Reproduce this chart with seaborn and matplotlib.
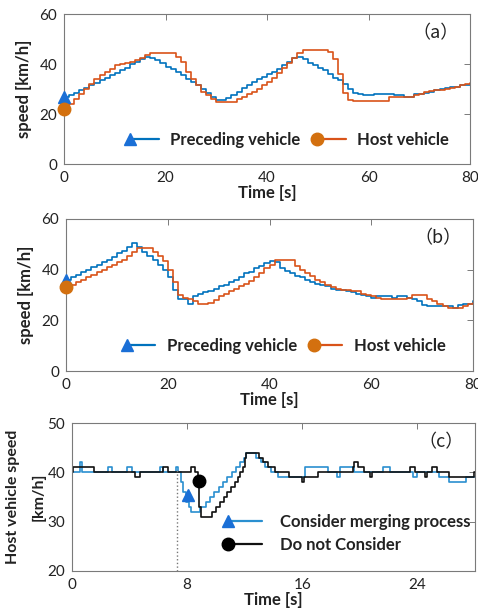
import numpy as np
import pandas as pd
import matplotlib
matplotlib.use("Agg")
import matplotlib.pyplot as plt
from matplotlib.lines import Line2D
from matplotlib.legend_handler import HandlerLine2D
import seaborn as sns

# ---------------- data ----------------
# (a) speed profiles sampled every second, 0..80 s
time_ab = list(range(0, 81))
a_preceding = [27, 27.5, 28.5, 29.5, 30.5, 31.5, 32.5, 33.5, 34.5, 35.5,
               36.5, 37.5, 38.5, 40, 41, 42, 43, 42.5, 41.5, 40.5,
               39, 38, 37, 35.5, 34, 33, 31.5, 30, 28.5, 27,
               25.5, 25.5, 26.5, 27.5, 29, 30.5, 31.5, 33, 34, 35,
               36, 37, 38, 39.5, 41, 42.5, 43, 42, 40.5, 39.5,
               38.5, 37.5, 36, 34.5, 33.5, 32, 30, 28.5, 28, 27.5,
               27.5, 28, 28, 28, 28, 27.5, 27.5, 27, 27, 28,
               28, 28.5, 29, 29.5, 30, 30.5, 31, 31, 31.5, 31.5, 31.5]
a_host = [22, 24, 26, 28, 30, 32, 34, 35.5, 37, 38,
          39.5, 40, 40.5, 41, 41.5, 42.5, 43.5, 44.3, 44.3, 44.3,
          44.3, 44.3, 43, 41, 37, 34, 31.5, 29, 27.5, 26,
          25, 25, 25, 25, 26, 27, 28, 29, 30, 31.5,
          33, 34.5, 36.5, 38.5, 40.5, 42.5, 44.5, 45.6, 45.6, 45.6,
          45.6, 45.6, 45, 42, 36, 28.5, 25.5, 25.3, 25.3, 25.3,
          25.3, 25.3, 25.3, 25.3, 26.7, 26.7, 26.7, 26.7, 27, 27.5,
          28, 29, 29.2, 29.5, 29.5, 30, 30.5, 31, 31.5, 32, 32.5]

# (b) speed profiles sampled every second, 0..80 s
b_preceding = [36, 37, 38, 39, 40, 41, 42, 43, 44, 45,
               46.5, 47.5, 49, 50.5, 49, 47, 45.5, 44, 42, 40,
               37, 32, 28.5, 28.5, 26.5, 29.5, 30.5, 31, 31.5, 32.5,
               33.5, 34, 35, 36, 37, 38.5, 39, 40.5, 41.5, 42.5,
               43.5, 43, 40.5, 39.5, 38.5, 37.5, 37, 36, 35, 34.5,
               34, 33.5, 32.5, 32, 32, 31.5, 31, 30.5, 30, 29.5,
               29, 29.5, 29.5, 29.5, 29, 29.5, 29.5, 29, 28.5, 27.5,
               26, 25.5, 25.5, 25.5, 25.5, 25.5, 25, 26, 26.5, 26.5, 27.5]
b_host = [33, 34, 35, 36, 37, 38, 39, 40, 41, 42,
          43, 44, 45.5, 47, 48.5, 48.5, 48.5, 47, 45.5, 43.5,
          40, 35, 30, 29, 28.5, 27.5, 26.5, 26.5, 27, 28,
          29.5, 30.5, 31.5, 32.5, 33.5, 34.5, 35.5, 37, 38.5, 40.5,
          42, 43.8, 43.8, 43.8, 43.8, 41.5, 40, 38.5, 37.5, 36,
          35, 34, 33, 32.5, 32, 32, 31.5, 31.5, 30.5, 30,
          29.5, 29, 28.5, 28.5, 28.5, 28.5, 28.5, 29, 30, 30,
          30, 28.5, 27.5, 26.5, 25.5, 24.8, 24.8, 24.8, 25.5, 26.5, 27]

# (c) host vehicle speed, change points (time [s], speed [km/h])
c_merge_t = [0, 0.55, 0.7, 2.5, 2.8, 3.8, 4.2, 6.1, 6.35, 7.2, 7.4, 7.55,
             7.7, 7.9, 8.1, 8.25, 8.9, 9.3, 9.6, 9.9, 10.2, 10.5, 10.8, 11.1,
             11.4, 11.7, 11.95, 12.1, 12.8, 13.1, 13.4, 13.8, 14.3, 16.2, 17.8,
             18.4, 18.6, 19.6, 21.6, 22.1, 23.7, 24.0, 25.5, 26.2, 27.4, 28]
c_merge_v = [40, 42, 40, 41, 40, 41, 40, 41, 40, 41, 40, 38,
             36, 34, 33, 32, 33, 34, 35, 36, 37, 38, 39, 40,
             41, 42, 43, 44, 43, 42, 41, 40, 39, 41, 40,
             39, 41, 40, 41, 40, 39, 40, 39, 38, 39, 39]
c_plain_t = [0, 0.1, 1.5, 4.4, 4.7, 6.3, 6.65, 8.3, 8.55, 8.75, 8.85, 8.95,
             9.7, 10.0, 10.3, 10.55, 10.8, 11.05, 11.3, 11.5, 11.7, 11.85, 12.0,
             12.1, 13.0, 13.3, 13.6, 14.1, 15.1, 16.0, 16.1, 17.1, 19.5, 19.6,
             19.85, 20.3, 20.7, 20.85, 23.5, 23.85, 24.55, 24.65, 25.0, 25.35,
             26.2, 27.9, 28]
c_plain_v = [40, 41, 40, 39, 40, 41, 40, 41, 40, 37, 33, 31,
             32, 33, 34, 35, 36, 37, 38, 39, 40, 41, 43,
             44, 43, 42, 41, 40, 39, 38, 39, 40, 41, 42,
             41, 40, 39, 40, 41, 40, 39, 40, 41, 40,
             39, 40, 40]
c_merge_marker = (8.05, 35.5)
c_plain_marker = (8.8, 38.2)
c_merge_start = 7.3

# ---------------- style ----------------
sns.set_theme(style="white")
plt.rcParams["font.family"] = ["Lato", "DejaVu Sans"]

BLUE = "#0072BD"
BLUE_MK = "#1A6FD6"
ORANGE = "#D95319"
ORANGE_MK = "#D3700F"
LIGHT_BLUE = "#2A8FD0"
BLACK = "#111111"
SPINE = "#7a7a7a"
TXT = "#222222"
TICK_FS = 11
LAB_FS = 12


class LeftMarkerHandler(HandlerLine2D):
    """Legend entry with the marker at the left end of the line."""

    def create_artists(self, legend, orig_handle, xdescent, ydescent,
                       width, height, fontsize, trans):
        arts = super().create_artists(legend, orig_handle, xdescent, ydescent,
                                      width, height, fontsize, trans)
        for a in arts:
            a.set_markevery([0])
        return arts


fig = plt.figure(figsize=(4.78, 6.09), dpi=100)
ax_a = fig.add_axes([0.1339, 0.7307, 0.8494, 0.2463])
ax_b = fig.add_axes([0.1381, 0.3908, 0.8515, 0.2496])
ax_c = fig.add_axes([0.1506, 0.0624, 0.8431, 0.2430])


def style_axes(ax):
    for s in ax.spines.values():
        s.set_visible(True)
        s.set_color(SPINE)
        s.set_linewidth(0.8)
    ax.tick_params(direction="in", length=4, width=0.7, color=SPINE,
                   top=True, right=True, labelsize=TICK_FS, labelcolor=TXT,
                   pad=5)
    ax.grid(False)


def panel_tag(ax, s):
    ax.text(0.915, 0.87, s, transform=ax.transAxes, ha="center", va="center",
            fontsize=13, color=TXT,
            family=["Noto Sans CJK SC", "DejaVu Sans"])


def add_legend(ax, handles, labels, xy, **kw):
    leg = ax.legend(handles, labels, loc="center", bbox_to_anchor=xy,
                    frameon=False, numpoints=2, borderpad=0,
                    handler_map={Line2D: LeftMarkerHandler(numpoints=2)},
                    prop={"size": LAB_FS, "weight": "bold"}, **kw)
    for txt in leg.get_texts():
        txt.set_color(TXT)
    return leg


def speed_panel(ax, t, prec, host, tag, leg_xy):
    df = pd.DataFrame({"t": t, "prec": prec, "host": host})
    sns.lineplot(data=df, x="t", y="prec", ax=ax, color=BLUE, lw=1.2,
                 drawstyle="steps-post", estimator=None)
    sns.lineplot(data=df, x="t", y="host", ax=ax, color=ORANGE, lw=1.2,
                 drawstyle="steps-post", estimator=None)
    ax.plot(t[0], prec[0], marker="^", ms=9, color=BLUE_MK, clip_on=False,
            zorder=5)
    ax.plot(t[0], host[0], marker="o", ms=9, color=ORANGE_MK, clip_on=False,
            zorder=5)
    ax.set_xlim(0, 80)
    ax.set_ylim(0, 60)
    ax.set_xticks([0, 20, 40, 60, 80])
    ax.set_yticks([0, 20, 40, 60])
    ax.set_xlabel("Time [s]", fontsize=LAB_FS, fontweight="bold", color=TXT,
                  labelpad=0)
    ax.set_ylabel("speed [km/h]", fontsize=LAB_FS, fontweight="bold",
                  color=TXT, labelpad=5)
    style_axes(ax)
    panel_tag(ax, tag)
    handles = [
        Line2D([0], [0], color=BLUE, lw=1.6, marker="^", ms=9,
               markerfacecolor=BLUE_MK, markeredgecolor=BLUE_MK),
        Line2D([0], [0], color=ORANGE, lw=1.6, marker="o", ms=9,
               markerfacecolor=ORANGE_MK, markeredgecolor=ORANGE_MK),
    ]
    add_legend(ax, handles, ["Preceding vehicle", "Host vehicle"], leg_xy,
               ncol=2, handlelength=2.3, handletextpad=0.4,
               columnspacing=0.7)


speed_panel(ax_a, time_ab, a_preceding, a_host, "（a）", (0.55, 0.16))
speed_panel(ax_b, time_ab, b_preceding, b_host, "（b）", (0.535, 0.166))

# (c)
dfc1 = pd.DataFrame({"t": c_merge_t, "v": c_merge_v})
dfc2 = pd.DataFrame({"t": c_plain_t, "v": c_plain_v})
sns.lineplot(data=dfc1, x="t", y="v", ax=ax_c, color=LIGHT_BLUE, lw=1.2,
             drawstyle="steps-post", estimator=None)
sns.lineplot(data=dfc2, x="t", y="v", ax=ax_c, color=BLACK, lw=1.2,
             drawstyle="steps-post", estimator=None)
ax_c.plot(*c_merge_marker, marker="^", ms=9, color=BLUE_MK, zorder=5)
ax_c.plot(*c_plain_marker, marker="o", ms=9, color="black", zorder=5)
ax_c.vlines(c_merge_start, 20, 40.5, colors="#777777", linestyles=":",
            lw=1.0)
ax_c.set_xlim(0, 28)
ax_c.set_ylim(20, 50)
ax_c.set_xticks([0, 8, 16, 24])
ax_c.set_yticks([20, 30, 40, 50])
ax_c.set_xlabel("Time [s]", fontsize=LAB_FS, fontweight="bold", color=TXT,
                labelpad=0)
ax_c.set_ylabel("Host vehicle speed\n[km/h]", fontsize=11.5,
                fontweight="bold", color=TXT, labelpad=1, linespacing=2.1)
style_axes(ax_c)
panel_tag(ax_c, "（c）")
handles_c = [
    Line2D([0], [0], color=LIGHT_BLUE, lw=1.6, marker="^", ms=9,
           markerfacecolor=BLUE_MK, markeredgecolor=BLUE_MK),
    Line2D([0], [0], color=BLACK, lw=1.6, marker="o", ms=9,
           markerfacecolor="black", markeredgecolor="black"),
]
add_legend(ax_c, handles_c, ["Consider merging process", "Do not Consider"],
           (0.682, 0.255), handlelength=2.6, handletextpad=0.8,
           labelspacing=0.45)

fig.savefig("out.png", dpi=100)
